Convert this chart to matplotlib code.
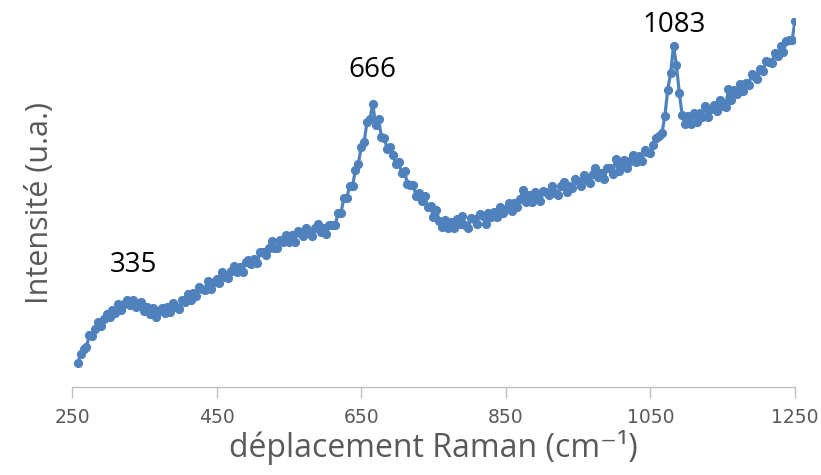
import numpy as np
import matplotlib
matplotlib.use("Agg")
import matplotlib.pyplot as plt

# Raman shift axis (cm-1), one sample every 4 cm-1
raman_shift = np.arange(258, 1251, 4)

# Measured intensity (arbitrary units)
intensity_low = [
    24, 33, 38, 40, 52, 51, 58, 65, 61, 68, 73, 70, 77, 74, 83, 77, 83, 87, 82,
    87, 80, 82, 85, 76, 80, 73, 79, 70, 76, 79, 74, 80, 75, 84, 80, 78, 87, 85, 93, 87,
]
intensity_mid = [
    94, 91, 100, 98, 97, 106, 98, 105, 108, 104, 115, 110, 109, 116, 121, 115,
    120, 115, 125, 127, 123, 128, 124, 135, 135, 132, 139, 146, 139, 139, 147, 145,
    152, 145, 152, 145, 156, 154, 151, 159, 154, 151, 159, 163, 155, 159, 153, 162,
]
intensity_peak1 = [
    162, 162, 174, 174, 189, 189, 201, 201, 217, 223, 240, 245, 265, 268, 283, 262,
    268, 250, 249, 238, 240, 232, 223, 225, 214, 216, 203, 202, 202, 191, 194, 186,
    191, 180, 181, 170, 177, 166, 160, 167, 159, 165,
]
intensity_plateau = [
    159, 168, 163, 171, 162, 159, 169, 168, 163, 173, 171, 163, 174, 170, 175, 170,
    180, 174, 178, 184, 176, 184, 180, 188, 197, 185, 192, 185, 195, 190, 186, 196,
    195, 192, 201, 194, 192, 201, 205, 195, 201, 199, 208, 206, 201, 212, 207, 204,
    213, 219, 210, 214, 208, 219, 219, 213, 228, 216, 222, 227, 219, 226, 232, 225,
    231, 226, 237, 235, 234, 242, 249,
]
intensity_high = [
    251, 254, 271, 297, 314, 341, 322, 294, 272, 263, 271, 263, 274, 265, 274, 270,
    281, 270, 278, 282, 276, 287, 281, 280, 298, 287, 297, 293, 303, 296, 304, 302,
    313, 311, 308, 318, 316, 326, 325, 324, 334, 331, 341, 335, 346, 347, 347, 366,
]
intensity = np.array(intensity_low + intensity_mid + intensity_peak1
                     + intensity_plateau + intensity_high)

# Labelled band positions (cm-1)
band_labels = ["335", "666", "1083"]
band_shift = [335, 666, 1083]

x_ticks = [250, 450, 650, 850, 1050, 1250]

line_color = "#4F81BD"
axis_grey = "#BFBFBF"
text_grey = "#595959"
label_font = ["Open Sans", "DejaVu Sans"]

fig = plt.figure(figsize=(8.21, 4.75), dpi=100)
ax = fig.add_axes([0.0877, 0.185, 0.8806, 0.777])

ax.plot(raman_shift, intensity, color=line_color, lw=2.3,
        marker="o", ms=5.6, mec=line_color, mfc=line_color)

ax.set_xlim(250, 1250)
ax.set_ylim(0, 369)

for side in ("left", "right", "top"):
    ax.spines[side].set_visible(False)
ax.spines["bottom"].set_color(axis_grey)
ax.spines["bottom"].set_linewidth(1.0)
ax.set_yticks([])
ax.set_xticks(x_ticks)
ax.tick_params(axis="x", direction="out", length=8, width=1.0,
               color=axis_grey, pad=7)
for lbl in ax.get_xticklabels():
    lbl.set_family(["Liberation Sans Narrow", "DejaVu Sans"])
    lbl.set_fontsize(13.5)
    lbl.set_color(text_grey)

ax.set_xlabel("déplacement Raman (cm⁻¹)", family=label_font,
              fontsize=23, color=text_grey, labelpad=2)
ax.set_ylabel("Intensité (u.a.)", family=label_font,
              fontsize=22, color=text_grey, labelpad=12)

# Band annotations placed just above each feature
label_heights = [122, 317, 362]
for txt, pos, h in zip(band_labels, band_shift, label_heights):
    ax.text(pos, h, txt, ha="center", va="center", fontsize=20,
            family=label_font, color="black", clip_on=False)

fig.savefig("out.png", dpi=100)
